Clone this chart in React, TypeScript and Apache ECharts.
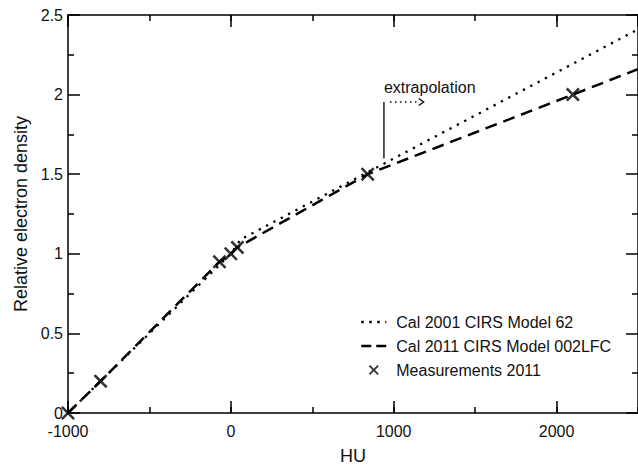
import React, { useEffect, useRef } from "react";
import * as echarts from "echarts";

const FONT = "'Liberation Sans', Arial, Helvetica, sans-serif";

// Cal 2001 CIRS Model 62 (dotted)
const cal2001HU = [-1000, 0, 60, 2500];
const cal2001RED = [0, 1.0, 1.09, 2.41];

// Cal 2011 CIRS Model 002LFC (dashed)
const cal2011HU = [-1000, -800, -70, 0, 40, 840, 2100, 2500];
const cal2011RED = [0, 0.2, 0.95, 1.0, 1.04, 1.5, 2.0, 2.16];

// Measurements 2011 (crosses)
const measHU = [-1000, -800, -70, 0, 40, 840, 2100];
const measRED = [0, 0.2, 0.95, 1.0, 1.04, 1.5, 2.0];

// Axis ranges
const X_MIN = -1000;
const X_MAX = 2500;
const X_MAJOR = 1000;
const X_MINOR = 500;
const Y_MIN = 0;
const Y_MAX = 2.5;
const Y_MAJOR = 0.5;

// Annotation anchor (data coordinates)
const EXTRAP_HU = 940;
const EXTRAP_ARROW_END_HU = 1184;
const EXTRAP_TOP = 1.953;
const EXTRAP_BOTTOM = 1.598;
const EXTRAP_TEXT_Y = 2.046;

const names = [
  "Cal 2001 CIRS Model 62",
  "Cal 2011 CIRS Model 002LFC",
  "Measurements 2011",
];

const X_PATH =
  "path://M0,1.3L1.3,0L5,3.7L8.7,0L10,1.3L6.3,5L10,8.7L8.7,10L5,6.3L1.3,10L0,8.7L3.7,5Z";

function zip(xs: number[], ys: number[]) {
  return xs.map((x, i) => [x, ys[i]]);
}

export default function App() {
  const ref = useRef<HTMLDivElement>(null);
  useEffect(() => {
    if (!ref.current) return;
    const chart = echarts.init(ref.current, null, { renderer: "svg" });
    const axisLine = { show: true, onZero: false, lineStyle: { color: "#000", width: 1.5 } };
    const noLine = { show: false, onZero: false };
    const majorTick = { show: true, inside: true, length: 12, lineStyle: { color: "#000", width: 1.5 } };
    const minorTickAxis = { show: true, inside: true, length: 6, lineStyle: { color: "#000", width: 1.5 } };
    const xBase = { type: "value", min: X_MIN, max: X_MAX, splitLine: { show: false } };
    const yBase = {
      type: "value",
      min: Y_MIN,
      max: Y_MAX,
      interval: Y_MAJOR,
      splitLine: { show: false },
      minorSplitLine: { show: false },
      minorTick: { show: true, splitNumber: 2, length: 6, lineStyle: { color: "#000", width: 1.5 } },
    };
    const hidden = { itemStyle: { color: "rgba(0,0,0,0)", borderWidth: 0, opacity: 0 } };
    chart.setOption({
      animation: false,
      textStyle: { fontFamily: FONT },
      grid: { left: 68, right: -2, top: 15, bottom: 53, containLabel: false },
      xAxis: [
        {
          ...xBase,
          position: "bottom",
          interval: X_MAJOR,
          axisLine,
          axisTick: majorTick,
          axisLabel: {
            show: true,
            margin: 10,
            fontSize: 16,
            color: "#111",
            fontFamily: FONT,
            showMaxLabel: false,
            formatter: (v: number) => String(v),
          },
          name: "HU",
          nameLocation: "middle",
          nameGap: 34,
          nameTextStyle: { fontSize: 18, color: "#111", fontFamily: FONT },
        },
        {
          ...xBase,
          position: "bottom",
          interval: X_MINOR,
          axisLine: noLine,
          axisTick: minorTickAxis,
          axisLabel: { show: false },
        },
        {
          ...xBase,
          position: "top",
          interval: X_MAJOR,
          axisLine,
          axisTick: majorTick,
          axisLabel: { show: false },
        },
        {
          ...xBase,
          position: "top",
          interval: X_MINOR,
          axisLine: noLine,
          axisTick: minorTickAxis,
          axisLabel: { show: false },
        },
      ],
      yAxis: [
        {
          ...yBase,
          position: "left",
          axisLine,
          axisTick: majorTick,
          axisLabel: { show: true, margin: 5, fontSize: 16, color: "#111", fontFamily: FONT },
          name: "Relative electron density",
          nameLocation: "middle",
          nameGap: 37,
          nameTextStyle: { fontSize: 18, color: "#111", fontFamily: FONT },
        },
        {
          ...yBase,
          position: "right",
          axisLine,
          axisTick: majorTick,
          axisLabel: { show: false },
        },
      ],
      legend: {
        orient: "vertical",
        left: 355,
        top: 309,
        itemWidth: 25,
        itemHeight: 10,
        itemGap: 8,
        textStyle: { fontSize: 16, color: "#111", fontFamily: FONT, padding: [0, 0, 0, 5] },
        data: [
          { name: names[0], lineStyle: { type: [2.5, 5.5], width: 2.5 }, ...hidden },
          { name: names[1], lineStyle: { type: [10, 5], width: 2.5 }, ...hidden },
          { name: names[2] },
        ],
      },
      series: [
        {
          name: names[0],
          type: "line",
          xAxisIndex: 0,
          yAxisIndex: 0,
          data: zip(cal2001HU, cal2001RED),
          symbol: "none",
          lineStyle: { color: "#000", width: 2.3, type: [2.3, 6] },
          itemStyle: { color: "#000" },
          z: 2,
        },
        {
          name: names[1],
          type: "line",
          xAxisIndex: 0,
          yAxisIndex: 0,
          data: zip(cal2011HU, cal2011RED),
          symbol: "none",
          lineStyle: { color: "#000", width: 2.5, type: [12, 7] },
          itemStyle: { color: "#000" },
          z: 3,
        },
        {
          name: names[2],
          type: "scatter",
          xAxisIndex: 0,
          yAxisIndex: 0,
          data: zip(measHU, measRED),
          symbol: X_PATH,
          symbolSize: 14,
          itemStyle: { color: "#000" },
          z: 4,
        },
      ],
    });

    const p = (x: number, y: number) =>
      chart.convertToPixel({ xAxisIndex: 0, yAxisIndex: 0 }, [x, y]) as number[];
    const top = p(EXTRAP_HU, EXTRAP_TOP);
    const bot = p(EXTRAP_HU, EXTRAP_BOTTOM);
    const arrowEnd = p(EXTRAP_ARROW_END_HU, EXTRAP_TOP);
    const txt = p(EXTRAP_HU, EXTRAP_TEXT_Y);
    chart.setOption({
      graphic: [
        {
          type: "text",
          x: txt[0],
          y: txt[1],
          style: { text: "extrapolation", font: `16px ${FONT}`, fill: "#111", verticalAlign: "middle", align: "left" },
        },
        {
          type: "line",
          shape: { x1: top[0], y1: top[1], x2: bot[0], y2: bot[1] },
          style: { stroke: "#000", lineWidth: 1.3 },
        },
        {
          type: "line",
          shape: { x1: top[0] + 6, y1: top[1], x2: arrowEnd[0] - 4, y2: arrowEnd[1] },
          style: { stroke: "#000", lineWidth: 1.5, lineDash: [1.5, 3.5] },
        },
        {
          type: "polyline",
          shape: {
            points: [
              [arrowEnd[0] - 5, arrowEnd[1] - 3.5],
              [arrowEnd[0], arrowEnd[1]],
              [arrowEnd[0] - 5, arrowEnd[1] + 3.5],
            ],
          },
          style: { stroke: "#000", lineWidth: 1.3, fill: null },
        },
      ],
    });
    return () => chart.dispose();
  }, []);
  return (
    <div
      ref={ref}
      style={{ position: "fixed", left: 0, top: 0, width: 638, height: 470, background: "#fff" }}
    />
  );
}
